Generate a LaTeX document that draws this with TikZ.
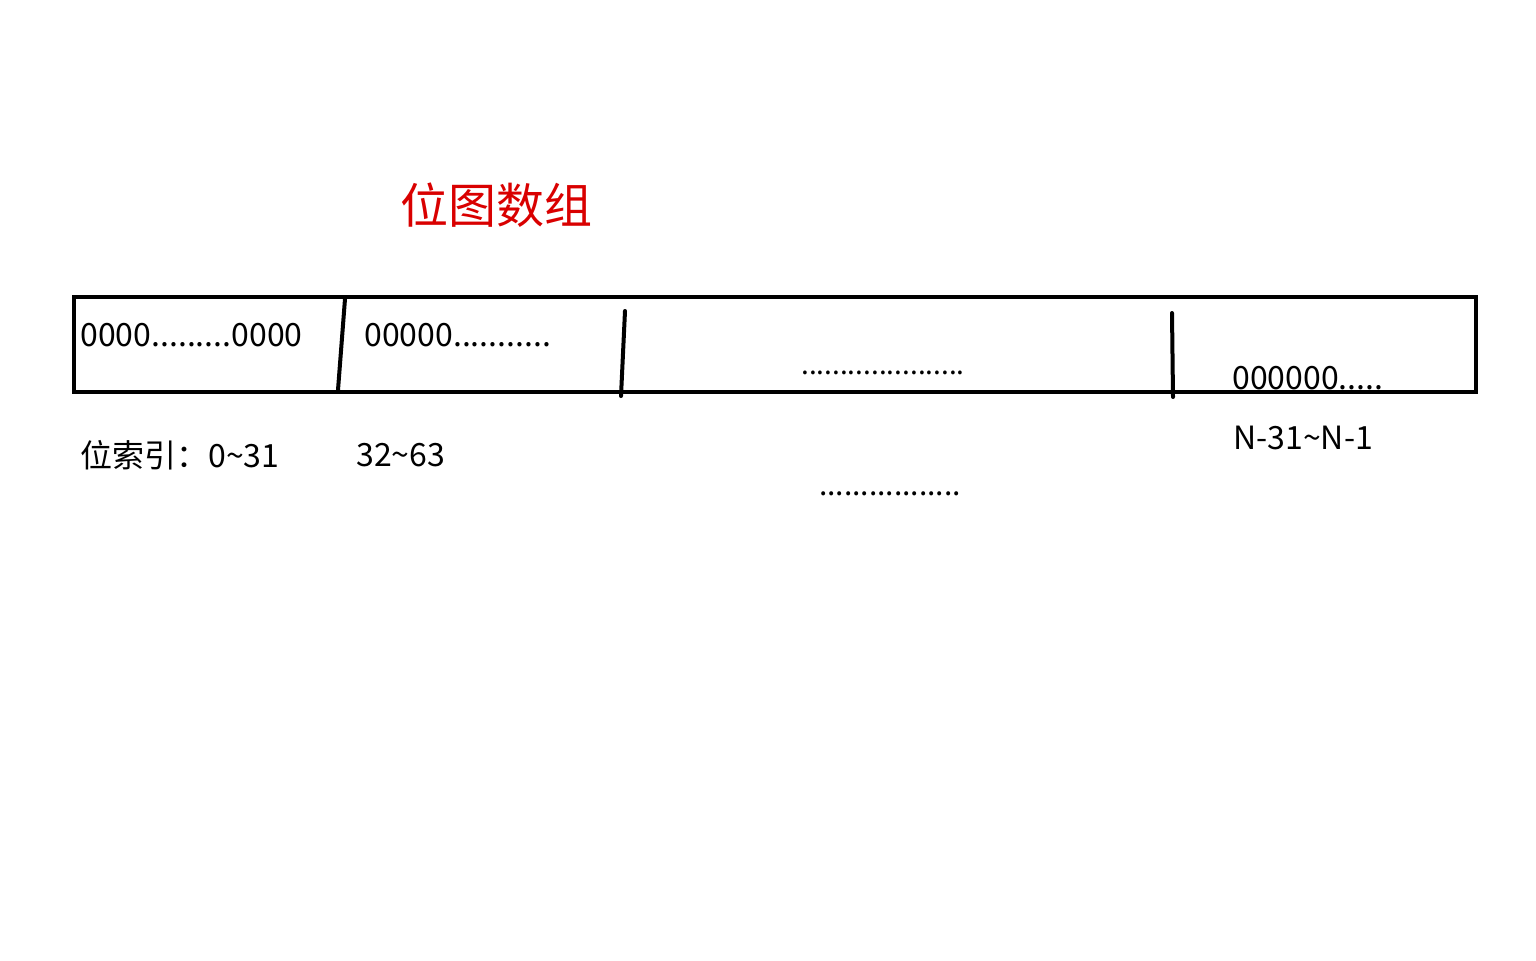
\documentclass[tikz,border=0pt]{standalone}
\usepackage{fontspec}
\setmainfont{Noto Sans CJK SC}
\begin{document}
\begin{tikzpicture}[x=0.5pt,y=-0.5pt,
  lbl/.style={inner sep=0pt,font=\fontsize{16}{19}\selectfont},
  bar/.style={line width=2pt,line cap=round}]
\useasboundingbox (0,0) rectangle (1536,960);
\node[inner sep=0pt,text=red!85!black,font=\fontsize{24}{28}\selectfont] (title) at (496,205) {位图数组};
\draw[line width=2pt] (74,297) rectangle (1476,392);
\coordinate (a1) at (345,299); \coordinate (a2) at (338,390);
\coordinate (b1) at (625,311); \coordinate (b2) at (621,396);
\coordinate (c1) at (1172,313); \coordinate (c2) at (1173,397);
\draw[bar] (a1) -- (a2);
\draw[bar] (b1) -- (b2);
\draw[bar] (c1) -- (c2);
\node[lbl,anchor=west] (t1) at (80,335) {0000.........0000};
\node[lbl,anchor=west] (t2) at (364,335) {00000...........};
\node[lbl,font=\fontsize{14}{17}\selectfont] (t3) at (883,373) {.....................};
\node[lbl,anchor=west] (t4) at (1232,378) {000000.....};
\node[lbl,anchor=west] (l1) at (80,455) {位索引：0\textasciitilde 31};
\node[lbl,anchor=west] (l2) at (356,455) {32\textasciitilde 63};
\node[lbl,anchor=west] (l3) at (1233,438) {N-31\textasciitilde N-1};
\node[lbl,font=\fontsize{15}{18}\selectfont] (l4) at (890,494) {.................};
\end{tikzpicture}
\end{document}
